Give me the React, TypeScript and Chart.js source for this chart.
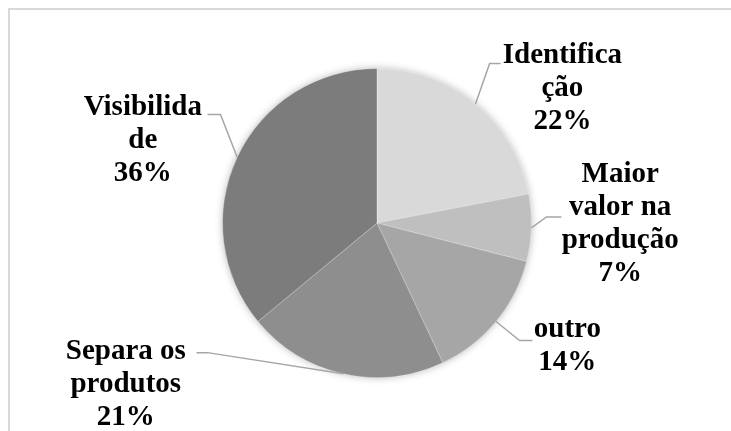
import React, { useEffect, useRef } from 'react';
import { Chart, registerables } from 'chart.js';

Chart.register(...registerables);

const categories = ['Identificação', 'Maior valor na produção', 'outro', 'Separa os produtos', 'Visibilidade'];
const percentages = [22, 7, 14, 21, 36];
const wrappedLabels = [
  ['Identifica', 'ção'],
  ['Maior', 'valor na', 'produção'],
  ['outro'],
  ['Separa os', 'produtos'],
  ['Visibilida', 'de'],
];
const sliceColors = ['#d9d9d9', '#bfbfbf', '#a6a6a6', '#8e8e8e', '#7c7c7c'];

// label layout, in units of the pie radius, relative to the pie centre
const labelLayout = [
  { c: [1.2, -0.871], elbow: [0.729, -1.032], end: [0.8, -1.032] },
  { c: [1.574, 0.006], elbow: [1.097, -0.039], end: [1.194, -0.039] },
  { c: [1.232, 0.794], elbow: [0.923, 0.761], end: [1.006, 0.761] },
  { c: [-1.626, 1.045], elbow: [-1.097, 0.839], end: [-1.168, 0.839] },
  { c: [-1.516, -0.535], elbow: [-1.013, -0.703], end: [-1.097, -0.703] },
];

const shadowPlugin = {
  id: 'pieShadow',
  beforeDatasetsDraw(chart: any) {
    const arc = chart.getDatasetMeta(0).data[0];
    if (!arc) return;
    const { x, y, outerRadius } = arc;
    const ctx = chart.ctx;
    ctx.save();
    ctx.shadowColor = 'rgba(0,0,0,0.35)';
    ctx.shadowBlur = 9;
    ctx.fillStyle = '#999';
    ctx.beginPath();
    ctx.arc(x, y, outerRadius - 1, 0, Math.PI * 2);
    ctx.fill();
    ctx.restore();
  },
};

const labelPlugin = {
  id: 'pieLabels',
  afterDatasetsDraw(chart: any) {
    const meta = chart.getDatasetMeta(0);
    const ctx = chart.ctx;
    const total = percentages.reduce((a, b) => a + b, 0);
    meta.data.forEach((arc: any, i: number) => {
      const { x, y, outerRadius, startAngle, endAngle } = arc;
      const r = outerRadius;
      const mid = (startAngle + endAngle) / 2;
      const ex = x + Math.cos(mid) * r;
      const ey = y + Math.sin(mid) * r;
      const L = labelLayout[i];
      ctx.save();
      ctx.strokeStyle = '#a6a6a6';
      ctx.lineWidth = 1.5;
      ctx.beginPath();
      ctx.moveTo(ex, ey);
      ctx.lineTo(x + L.elbow[0] * r, y + L.elbow[1] * r);
      ctx.lineTo(x + L.end[0] * r, y + L.end[1] * r);
      ctx.stroke();

      const lines = [...wrappedLabels[i], Math.round((percentages[i] / total) * 100) + '%'];
      const lh = 33;
      const cx = x + L.c[0] * r;
      const cy = y + L.c[1] * r;
      const top = cy - ((lines.length - 1) * lh) / 2;
      ctx.fillStyle = '#000';
      ctx.font = 'bold 29px "Liberation Serif", "Times New Roman", serif';
      ctx.textAlign = 'center';
      ctx.textBaseline = 'middle';
      lines.forEach((t, k) => ctx.fillText(t, cx, top + k * lh));
      ctx.restore();
    });
  },
};

export default function App() {
  const ref = useRef<HTMLCanvasElement>(null);
  useEffect(() => {
    if (!ref.current) return;
    const chart = new Chart(ref.current, {
      type: 'pie',
      data: {
        labels: categories,
        datasets: [
          {
            data: percentages,
            backgroundColor: sliceColors,
            borderColor: 'rgba(255,255,255,0.3)',
            borderWidth: 1,
          },
        ],
      },
      options: {
        animation: false,
        responsive: false,
        layout: { padding: { left: 222, right: 199, top: 68, bottom: 53 } },
        plugins: { legend: { display: false }, tooltip: { enabled: false } },
      },
      plugins: [shadowPlugin, labelPlugin],
    });
    return () => chart.destroy();
  }, []);
  return (
    <div style={{ position: 'absolute', left: 0, top: 0, width: 731, height: 431, background: '#fff', overflow: 'hidden' }}>
      <div
        style={{
          position: 'absolute',
          left: 8,
          top: 8,
          width: 723,
          height: 423,
          borderTop: '2px solid #d9d9d9',
          borderLeft: '2px solid #d9d9d9',
          boxSizing: 'border-box',
        }}
      />
      <canvas ref={ref} width={731} height={431} style={{ position: 'absolute', left: 0, top: 0 }} />
    </div>
  );
}
